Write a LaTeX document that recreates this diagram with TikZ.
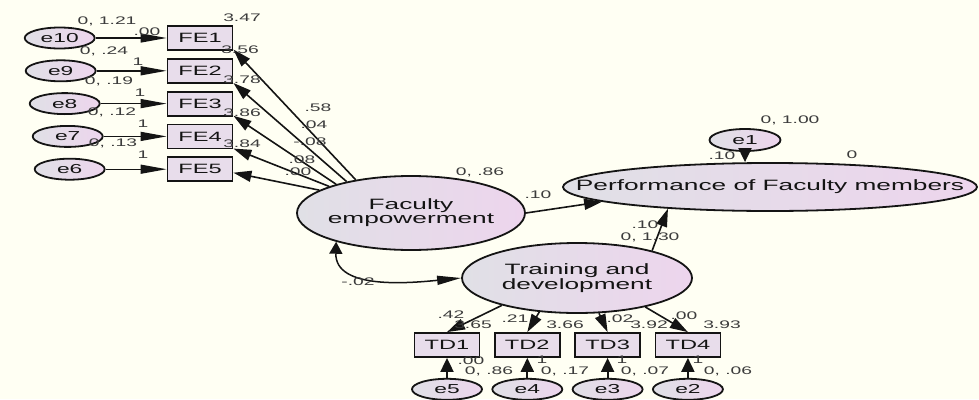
\documentclass[tikz,border=0pt]{standalone}
\usepackage{fontspec}
\setmainfont{Liberation Sans}[FakeStretch=1.75]
\usepackage{tikz}
\usetikzlibrary{arrows.meta,positioning,shapes.geometric}

\definecolor{bgivory}{RGB}{255,255,243}
\definecolor{lgray}{RGB}{224,224,230}
\definecolor{lpink}{RGB}{237,213,237}
\definecolor{boxfill}{RGB}{232,221,235}
\definecolor{ink}{RGB}{20,20,20}
\definecolor{lbltxt}{RGB}{60,60,60}

\begin{document}
\begin{tikzpicture}[
    x=1pt, y=-1pt,
    err/.style={ellipse, draw=ink, line width=1.8pt, left color=lgray, right color=lpink, minimum width=70pt, minimum height=21pt, inner sep=0pt, font=\fontsize{13}{12}\selectfont, text=ink},
    obs/.style={rectangle, draw=ink, line width=1.8pt, fill=boxfill, minimum width=65pt, minimum height=24pt, inner sep=0pt, font=\fontsize{13.5}{13}\selectfont, text=ink},
    latent/.style={ellipse, draw=ink, line width=1.8pt, left color=lgray, right color=lpink, inner sep=0pt},
    ltext/.style={align=center, inner sep=0pt, font=\fontsize{15}{12}\selectfont, text=ink},
    lbl/.style={inner sep=0pt, font=\fontsize{11}{11}\selectfont, text=lbltxt},
    harr/.style={draw=ink, line width=1.4pt, -{Triangle[length=26pt,width=9pt]}},
    varr/.style={draw=ink, line width=1.9pt, -{Triangle[length=14pt,width=13pt]}},
    darr/.style={draw=ink, line width=1.6pt, -{Triangle[length=18pt,width=11pt]}},
    cov/.style={draw=ink, line width=1.5pt, {Triangle[length=12pt,width=13pt]}-{Triangle[length=24pt,width=9pt]}}
]
    % Background
    \fill[bgivory] (0,0) rectangle (979,399);
    \useasboundingbox (0,0) rectangle (979,399);

    % Faculty empowerment indicators
    \node[obs] (FE1) at (200,38) {FE1};
    \node[obs, below=7pt of FE1] (FE2) {FE2};
    \node[obs, below=7pt of FE2] (FE3) {FE3};
    \node[obs, below=7pt of FE3] (FE4) {FE4};
    \node[obs, below=7pt of FE4] (FE5) {FE5};

    \node[err, left=71pt of FE1] (e10) {e10};
    \node[err, left=70pt of FE2] (e9) {e9};
    \node[err, left=66pt of FE3] (e8) {e8};
    \node[err, left=63pt of FE4] (e7) {e7};
    \node[err, left=61pt of FE5] (e6) {e6};

    % Latent variables
    \node[latent, minimum width=228pt, minimum height=74pt] (fac) at (411,213) {};
    \node[ltext] (factxt) at (fac) {Faculty\\empowerment};
    \node[latent, minimum width=230pt, minimum height=70pt] (tra) at (577,278) {};
    \node[ltext] (tratxt) at (tra) {Training and\\development};
    \node[latent, minimum width=414pt, minimum height=48pt] (perf) at (770,187) {};
    \node[ltext] (perftxt) at (perf) {Performance of Faculty members};
    \node[err, minimum width=71pt, minimum height=22pt] (e1) at (745,140) {e1};

    % Training and development indicators
    \node[obs] (TD1) at (447,345) {TD1};
    \node[obs, right=13.5pt of TD1] (TD2) {TD2};
    \node[obs, right=13.5pt of TD2] (TD3) {TD3};
    \node[obs, right=13.5pt of TD3] (TD4) {TD4};

    \node[err, below=20pt of TD1] (e5) {e5};
    \node[err, below=20pt of TD2] (e4) {e4};
    \node[err, below=20pt of TD3] (e3) {e3};
    \node[err, below=20pt of TD4] (e2) {e2};

    % Error arrows
    \draw[harr] (e10) -- (FE1);
    \draw[harr] (e9) -- (FE2);
    \draw[harr] (e8) -- (FE3);
    \draw[harr] (e7) -- (FE4);
    \draw[harr] (e6) -- (FE5);
    \draw[varr] (e5) -- (TD1);
    \draw[varr] (e4) -- (TD2);
    \draw[varr] (e3) -- (TD3);
    \draw[varr] (e2) -- (TD4);
    \draw[varr] (e1) -- (e1 |- perf.north);

    % Loadings
    \draw[darr] (fac.149) -- (FE1.-19);
    \draw[darr] (fac.154) -- (FE2.-20);
    \draw[darr] (fac.159) -- (FE3.-20);
    \draw[darr] (fac.162) -- (FE4.-20);
    \draw[darr] (fac.166) -- (FE5.-6);
    \draw[darr] (tra.200) -- (TD1.north);
    \draw[darr] (tra.222) -- (TD2.north);
    \draw[darr] (tra.302) -- (TD3.north);
    \draw[darr] (tra.337) -- (TD4.north);

    % Structural paths
    \draw[darr] (fac.east) -- (perf.185);
    \draw[darr] (tra.20) -- (perf.192);

    % Covariance
    \draw[cov] (fac.201) .. controls (335,290) and (410,283) .. (tra.west);

    % Estimates
    \node[lbl] (v10) at (107,21) {0, 1.21};
    \node[lbl] (v9) at (104,51) {0, .24};
    \node[lbl] (v8) at (109,81) {0, .19};
    \node[lbl] (v7) at (112,112) {0, .12};
    \node[lbl] (v6) at (113,143) {0, .13};
    \node[lbl] (w10) at (147,32) {.00};
    \node[lbl] (w9) at (138,62) {1};
    \node[lbl] (w8) at (140,93) {1};
    \node[lbl] (w7) at (143,124) {1};
    \node[lbl] (w6) at (143,155) {1};
    \node[lbl] (i1) at (242,18) {3.47};
    \node[lbl] (i2) at (240,50) {3.56};
    \node[lbl] (i3) at (242,80) {3.78};
    \node[lbl] (i4) at (242,113) {3.86};
    \node[lbl] (i5) at (242,144) {3.84};
    \node[lbl] (p1) at (318,108) {.58};
    \node[lbl] (p2) at (314,125) {.04};
    \node[lbl] (p3) at (310,142) {-.08};
    \node[lbl] (p4) at (302,160) {.08};
    \node[lbl] (p5) at (298,172) {.00};
    \node[lbl] (vfac) at (480,172) {0, .86};
    \node[lbl] (bfac) at (538,195) {.10};
    \node[lbl] (v1) at (790,120) {0, 1.00};
    \node[lbl] (w1) at (722,156) {.10};
    \node[lbl] (iperf) at (852,155) {0};
    \node[lbl] (btra) at (645,225) {.10};
    \node[lbl] (vtra) at (650,237) {0, 1.30};
    \node[lbl] (cv) at (358,282) {-.02};
    \node[lbl] (q1) at (451,315) {.42};
    \node[lbl] (j1) at (473,325) {3.65};
    \node[lbl] (q2) at (515,319) {.21};
    \node[lbl] (j2) at (565,325) {3.66};
    \node[lbl] (q3) at (620,319) {.02};
    \node[lbl] (j3) at (649,325) {3.92};
    \node[lbl] (q4) at (684,316) {.00};
    \node[lbl] (j4) at (722,325) {3.93};
    \node[lbl] (w5) at (471,361) {.00};
    \node[lbl] (v5) at (489,371) {0, .86};
    \node[lbl] (w4) at (542,360) {1};
    \node[lbl] (v4) at (565,371) {0, .17};
    \node[lbl] (w3) at (622,360) {1};
    \node[lbl] (v3) at (645,371) {0, .07};
    \node[lbl] (w2) at (698,360) {1};
    \node[lbl] (v2) at (728,371) {0, .06};
\end{tikzpicture}
\end{document}
